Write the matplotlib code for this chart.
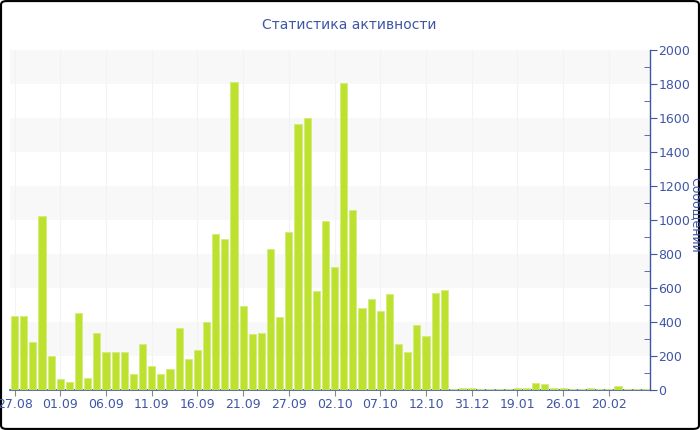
import matplotlib
matplotlib.use("Agg")
import matplotlib.pyplot as plt
from matplotlib.patches import FancyBboxPatch
from matplotlib.ticker import MultipleLocator

plt.rcParams['font.family'] = ['DejaVu Sans']

dates = [
    "27.08", "28.08", "29.08", "30.08", "31.08",
    "01.09", "02.09", "03.09", "04.09", "05.09",
    "06.09", "07.09", "08.09", "09.09", "10.09",
    "11.09", "12.09", "13.09", "14.09", "15.09",
    "16.09", "17.09", "18.09", "19.09", "20.09",
    "21.09", "22.09", "23.09", "24.09", "26.09",
    "27.09", "28.09", "29.09", "30.09", "01.10",
    "02.10", "03.10", "04.10", "05.10", "06.10",
    "07.10", "08.10", "09.10", "10.10", "11.10",
    "12.10", "13.10", "14.10", "15.10", "29.12",
    "31.12", "05.01", "10.01", "14.01", "17.01",
    "19.01", "20.01", "21.01", "22.01", "24.01",
    "26.01", "29.01", "03.02", "08.02", "15.02",
    "20.02", "22.02", "25.02", "27.02", "01.03",
]
messages = [
    435, 435, 284, 1023, 200, 65, 49, 455, 71, 333,
    222, 222, 222, 94, 272, 139, 94, 123, 363, 180,
    233, 400, 918, 888, 1810, 492, 327, 333, 827, 429,
    931, 1563, 1598, 580, 996, 725, 1806, 1060, 482, 535,
    467, 567, 269, 226, 384, 318, 573, 588, 7, 12,
    12, 8, 8, 8, 8, 10, 14, 43, 33, 12,
    12, 8, 8, 12, 8, 8, 25, 8, 8, 8,
]
title = "Статистика активности"
ylabel = "Сообщений"

blue = "#3f56a6"
bar_color = "#bce12f"

fig = plt.figure(figsize=(7, 4.3), dpi=100)
fig.patches.append(FancyBboxPatch((0.0015, 0.0025), 0.997, 0.995,
                                  boxstyle="round,pad=0,rounding_size=0.008",
                                  transform=fig.transFigure, facecolor="white",
                                  edgecolor="black", linewidth=1.5, zorder=-10))

ax = fig.add_axes([10/700, 40/430, 640/700, 340/430])
ax.set_facecolor("white")
x = list(range(len(messages)))
ax.bar(x, messages, width=0.78, color=bar_color, edgecolor="#d4ec7a",
       linewidth=0.6, zorder=3)

ax.set_xlim(-0.5, len(messages) - 0.5)
ax.set_ylim(0, 2000)

# alternating bands
for lo in range(200, 2000, 400):
    ax.axhspan(lo, lo + 200, color="#f8f8f8", zorder=0, linewidth=0)
# faint vertical grid
for i in range(0, len(messages), 5):
    ax.axvline(i, color="#f3f3f3", linewidth=0.8, zorder=1)

ax.yaxis.tick_right()
ax.yaxis.set_label_position("right")
ax.yaxis.set_major_locator(MultipleLocator(200))
ax.yaxis.set_minor_locator(MultipleLocator(100))
ax.tick_params(axis="y", which="major", direction="out", length=5,
               color=blue, labelcolor=blue, labelsize=9, pad=1)
ax.tick_params(axis="y", which="minor", direction="in", length=4, color=blue)

ticks = list(range(0, len(messages), 5))
ax.set_xticks(ticks)
ax.set_xticklabels([dates[i] for i in ticks])
ax.tick_params(axis="x", direction="out", length=4, color="#888888",
               labelcolor=blue, labelsize=9, pad=2)

for s in ["top", "left"]:
    ax.spines[s].set_visible(False)
ax.spines["bottom"].set_color(blue)
ax.spines["right"].set_color(blue)
ax.spines["bottom"].set_linewidth(1.2)
ax.spines["right"].set_linewidth(1)

fig.text(349/700, 1 - 25/430, title, ha="center", va="center",
         color=blue, fontsize=10)
fig.text(695/700, 1 - 215/430, ylabel, ha="center", va="center",
         rotation=270, color=blue, fontsize=9)

fig.savefig("out.png", dpi=100)
